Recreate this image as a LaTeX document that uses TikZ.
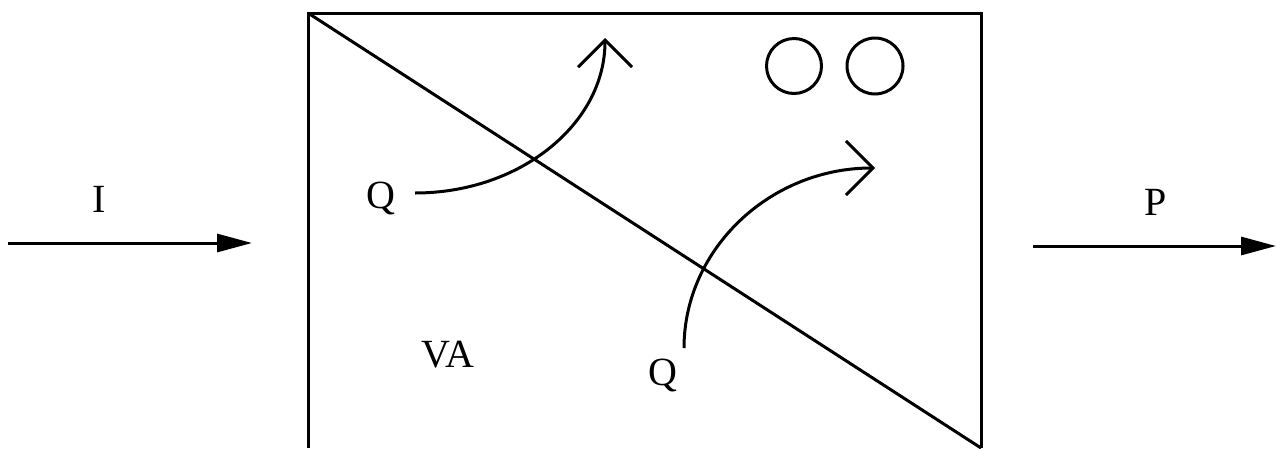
\documentclass[tikz,border=0pt]{standalone}
\usepackage{fontspec}
\setmainfont{Liberation Serif}
\usetikzlibrary{arrows.meta}
\begin{document}
\begin{tikzpicture}[x=1pt,y=-1pt,
  line width=3pt,
  lbl/.style={inner sep=0pt,font=\fontsize{40}{46}\selectfont},
  flow/.style={-{Triangle[length=35pt,width=18pt]}},
  heat/.style={-{Straight Barb[length=27pt,width=54pt,line width=3pt]}}]
\useasboundingbox (0,0) rectangle (1284,448);
% open-bottomed box and its diagonal
\coordinate (bl) at (308,448);
\coordinate (tl) at (308,13);
\coordinate (tr) at (981,13);
\coordinate (br) at (981,448);
\draw[line cap=butt] (bl) -- (tl) -- (tr) -- (br);
\draw (tl) -- (br);
% input and output flows
\coordinate (in0) at (8,243);
\coordinate (in1) at (252,243);
\coordinate (out0) at (1033,246);
\coordinate (out1) at (1276,246);
\draw[flow] (in0) -- (in1);
\draw[flow] (out0) -- (out1);
\node[lbl] (I) at (99,199) {I};
\node[lbl] (P) at (1156,202) {P};
% labels inside the box
\node[lbl] (Q1) at (381,198) {Q};
\node[lbl] (Q2) at (663,375) {Q};
\node[lbl] (VA) at (448,355) {VA};
% two circles top right
\node[circle,draw,minimum size=55pt,inner sep=0pt] (c1) at (794,66) {};
\node[circle,draw,minimum size=56pt,inner sep=0pt] (c2) at (875,66) {};
% heat arrows crossing the diagonal
\coordinate (h1s) at (415,193);
\coordinate (h1e) at (605,38);
\coordinate (h2s) at (684,348);
\coordinate (h2e) at (875,168);
\draw[heat] (h1s) .. controls (520,193) and (605,124) .. (h1e);
\draw[heat] (h2s) .. controls (684,249) and (770,168) .. (h2e);
\end{tikzpicture}
\end{document}
